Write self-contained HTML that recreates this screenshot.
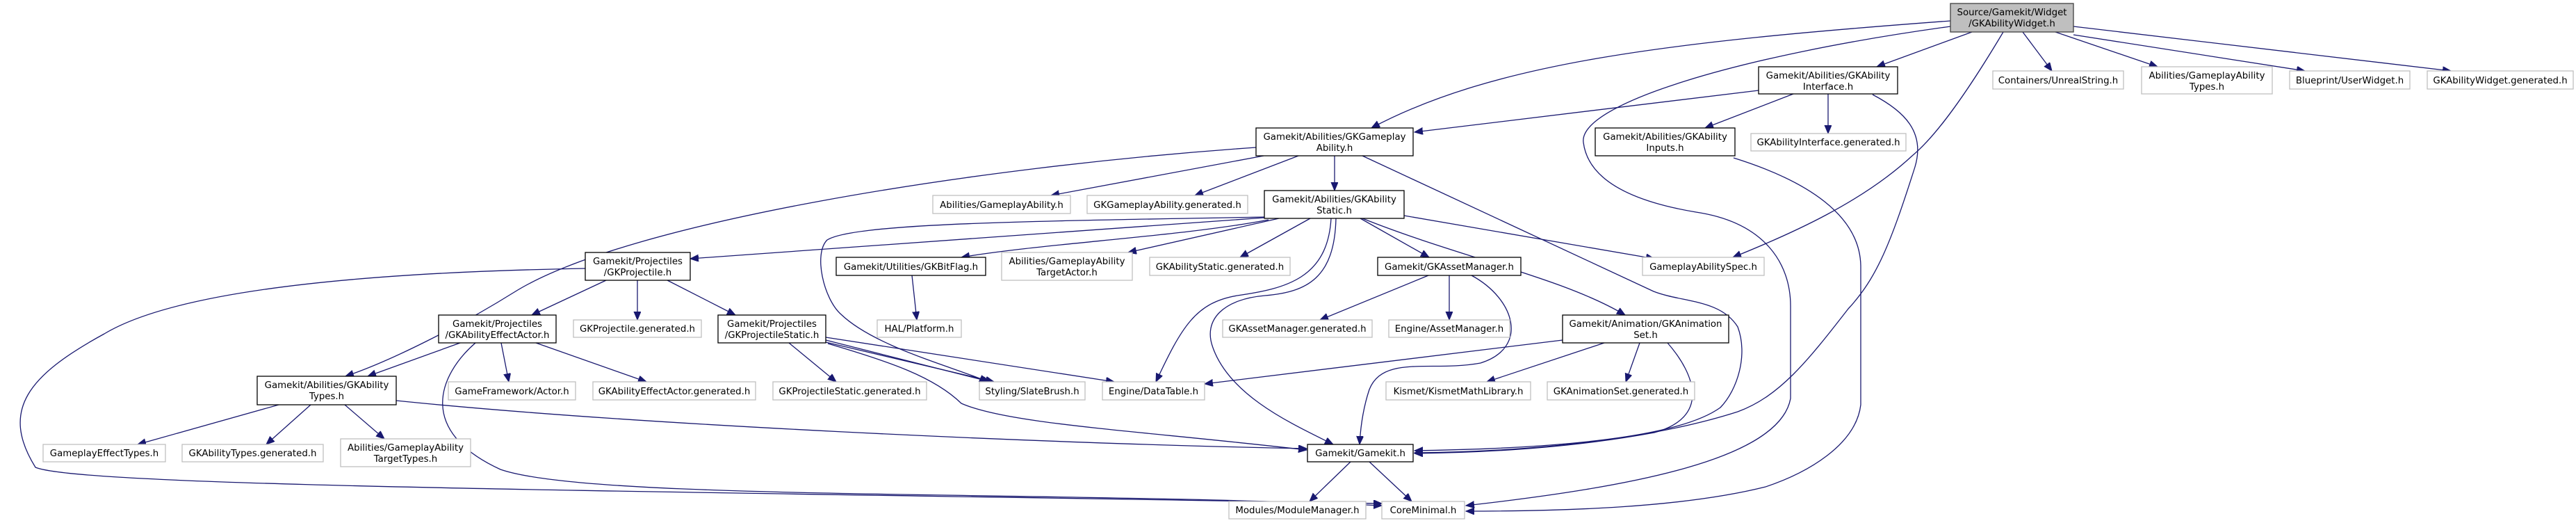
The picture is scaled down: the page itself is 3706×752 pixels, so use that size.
<!DOCTYPE html>
<html><head><meta charset="utf-8"><style>
html,body{margin:0;padding:0;background:#fff;}
svg{display:block;}
text{font-family:"DejaVu Sans","Liberation Sans",sans-serif;font-size:13.33px;fill:#000;text-anchor:middle;}
.e{fill:none;stroke:#191970;stroke-width:1.3;marker-end:url(#a);}
.b{fill:#fff;stroke:#000;stroke-width:1.3;}
.g{fill:#fff;stroke:#bfbfbf;stroke-width:1.3;}
.r{fill:#bfbfbf;stroke:#404040;stroke-width:1.3;}
</style></head><body>
<svg width="3706" height="752" viewBox="0 0 3706 752" xmlns="http://www.w3.org/2000/svg">
<defs><marker id="a" markerUnits="userSpaceOnUse" markerWidth="14" markerHeight="12" refX="12" refY="5" orient="auto"><path d="M0,0 L12,5 L0,10 z" fill="#191970" stroke="#191970"/></marker></defs>
<g>
<path class="e" d="M2806,30 C2400,60 2150,90 1973,184"/>
<path class="e" d="M2806,38 C2500,80 2270,150 2278,205 C2285,260 2350,290 2440,305 C2540,320 2576,380 2576,440 L2576,573 C2560,660 2350,700 2109,727"/>
<path class="e" d="M2837,46 L2700,96"/>
<path class="e" d="M2882,46 C2820,150 2780,200 2751,224 C2680,290 2580,335 2493,370"/>
<path class="e" d="M2910,46 L2952,102"/>
<path class="e" d="M2957,46 L3104,96"/>
<path class="e" d="M2983,50 L3316,102"/>
<path class="e" d="M2983,38 L3526,102"/>
<path class="e" d="M2530,130 L2035,190"/>
<path class="e" d="M2580,135 L2453,184"/>
<path class="e" d="M2630,135 L2630,192"/>
<path class="e" d="M2694,136 C2740,160 2770,190 2755,240 C2720,350 2700,400 2659,444 C2600,520 2560,570 2500,592 C2350,640 2150,650 2035,651"/>
<path class="e" d="M2494,227 C2600,260 2677,310 2677,384 L2677,582 C2670,640 2600,680 2540,700 C2420,730 2250,735 2109,735"/>
<path class="e" d="M1818,224 L1512,281"/>
<path class="e" d="M1868,224 L1719,281"/>
<path class="e" d="M1920,224 L1920,274"/>
<path class="e" d="M1807,212 C1400,240 900,320 740,420 C660,470 560,520 497,541"/>
<path class="e" d="M1960,224 L2379,419 C2420,435 2475,430 2500,470 C2515,510 2500,560 2475,586 C2400,640 2150,646 2035,648"/>
<path class="e" d="M1819,313 L993,372"/>
<path class="e" d="M1825,316 C1700,340 1500,350 1383,370"/>
<path class="e" d="M1840,314 L1623,363"/>
<path class="e" d="M1885,314 L1784,370"/>
<path class="e" d="M1957,314 L2056,370"/>
<path class="e" d="M1960,314 C2100,370 2250,400 2338,453"/>
<path class="e" d="M2020,310 L2380,372"/>
<path class="e" d="M1915,314 C1910,400 1850,415 1780,425 C1720,435 1700,470 1663,549"/>
<path class="e" d="M1922,314 C1920,400 1880,420 1820,425 C1760,430 1730,460 1745,500 C1770,570 1860,610 1918,639"/>
<path class="e" d="M1819,312 C1500,318 1230,320 1190,345 C1170,365 1185,430 1210,452 C1260,500 1380,530 1421,549"/>
<path class="e" d="M1188,485 L1603,549"/>
<path class="e" d="M1188,489 L1425,549"/>
<path class="e" d="M1188,492 L1430,549"/>
<path class="e" d="M1191,494 C1280,520 1344,542 1383,580 C1450,610 1638,619 1880,647"/>
<path class="e" d="M1135,493 L1203,549"/>
<path class="e" d="M570,576 C900,610 1500,638 1880,645"/>
<path class="e" d="M842,386 C500,392 250,420 150,480 C40,540 0,590 51,672 C120,700 900,705 1988,724"/>
<path class="e" d="M684,493 C630,540 600,620 720,675 C850,720 1500,705 1988,727"/>
<path class="e" d="M662,493 L529,541"/>
<path class="e" d="M872,403 L765,453"/>
<path class="e" d="M917,403 L917,460"/>
<path class="e" d="M960,403 L1058,453"/>
<path class="e" d="M721,493 L732,549"/>
<path class="e" d="M771,493 L930,549"/>
<path class="e" d="M401,582 L198,639"/>
<path class="e" d="M447,582 L383,639"/>
<path class="e" d="M496,582 L553,631"/>
<path class="e" d="M1312,396 L1319,460"/>
<path class="e" d="M2055,396 L1899,460"/>
<path class="e" d="M2085,396 L2085,460"/>
<path class="e" d="M2117,396 C2180,430 2200,500 2130,522 C2060,535 1990,510 1970,560 C1960,590 1957,620 1956,639"/>
<path class="e" d="M2248,489 L1733,552"/>
<path class="e" d="M2308,493 L2139,549"/>
<path class="e" d="M2359,493 L2339,549"/>
<path class="e" d="M2399,493 C2440,540 2460,600 2380,622 C2250,646 2120,651 2035,652"/>
<path class="e" d="M1943,664 L1884,721"/>
<path class="e" d="M1970,664 L2031,721"/>
</g>
<g>
<rect class="r" x="2806" y="5" width="177" height="41"/><text x="2894.5" y="22">Source/Gamekit/Widget</text><text x="2894.5" y="38">/GKAbilityWidget.h</text>
<rect class="b" x="2530" y="96" width="200" height="39"/><text x="2630" y="113">Gamekit/Abilities/GKAbility</text><text x="2630" y="129">Interface.h</text>
<rect class="g" x="2867" y="102" width="188" height="26"/><text x="2961" y="120">Containers/UnrealString.h</text>
<rect class="g" x="3081" y="96" width="188" height="39"/><text x="3175" y="113">Abilities/GameplayAbility</text><text x="3175" y="129">Types.h</text>
<rect class="g" x="3294" y="102" width="173" height="26"/><text x="3380.5" y="120">Blueprint/UserWidget.h</text>
<rect class="g" x="3492" y="102" width="210" height="26"/><text x="3597" y="120">GKAbilityWidget.generated.h</text>
<rect class="b" x="1807" y="184" width="226" height="40"/><text x="1920" y="201">Gamekit/Abilities/GKGameplay</text><text x="1920" y="217">Ability.h</text>
<rect class="b" x="2295" y="184" width="201" height="40"/><text x="2395.5" y="201">Gamekit/Abilities/GKAbility</text><text x="2395.5" y="217">Inputs.h</text>
<rect class="g" x="2519" y="192" width="223" height="25"/><text x="2630.5" y="209">GKAbilityInterface.generated.h</text>
<rect class="g" x="1342" y="281" width="198" height="26"/><text x="1441" y="299">Abilities/GameplayAbility.h</text>
<rect class="g" x="1564" y="281" width="231" height="26"/><text x="1679.5" y="299">GKGameplayAbility.generated.h</text>
<rect class="b" x="1819" y="274" width="201" height="40"/><text x="1919.5" y="291">Gamekit/Abilities/GKAbility</text><text x="1919.5" y="307">Static.h</text>
<rect class="b" x="842" y="363" width="151" height="40"/><text x="917.5" y="380">Gamekit/Projectiles</text><text x="917.5" y="396">/GKProjectile.h</text>
<rect class="b" x="1203" y="370" width="215" height="26"/><text x="1310.5" y="388">Gamekit/Utilities/GKBitFlag.h</text>
<rect class="g" x="1441" y="363" width="188" height="40"/><text x="1535" y="380">Abilities/GameplayAbility</text><text x="1535" y="396">TargetActor.h</text>
<rect class="g" x="1654" y="370" width="202" height="26"/><text x="1755" y="388">GKAbilityStatic.generated.h</text>
<rect class="b" x="1982" y="370" width="206" height="26"/><text x="2085" y="388">Gamekit/GKAssetManager.h</text>
<rect class="g" x="2363" y="370" width="175" height="26"/><text x="2450.5" y="388">GameplayAbilitySpec.h</text>
<rect class="b" x="631" y="453" width="169" height="40"/><text x="715.5" y="470">Gamekit/Projectiles</text><text x="715.5" y="486">/GKAbilityEffectActor.h</text>
<rect class="g" x="825" y="460" width="184" height="25"/><text x="917" y="477">GKProjectile.generated.h</text>
<rect class="b" x="1033" y="453" width="155" height="40"/><text x="1110.5" y="470">Gamekit/Projectiles</text><text x="1110.5" y="486">/GKProjectileStatic.h</text>
<rect class="g" x="1262" y="460" width="121" height="25"/><text x="1322.5" y="477">HAL/Platform.h</text>
<rect class="g" x="1759" y="460" width="215" height="25"/><text x="1866.5" y="477">GKAssetManager.generated.h</text>
<rect class="g" x="1998" y="460" width="174" height="25"/><text x="2085" y="477">Engine/AssetManager.h</text>
<rect class="b" x="2248" y="453" width="239" height="40"/><text x="2367.5" y="470">Gamekit/Animation/GKAnimation</text><text x="2367.5" y="486">Set.h</text>
<rect class="b" x="370" y="541" width="200" height="41"/><text x="470" y="558">Gamekit/Abilities/GKAbility</text><text x="470" y="574">Types.h</text>
<rect class="g" x="645" y="549" width="183" height="26"/><text x="736.5" y="567">GameFramework/Actor.h</text>
<rect class="g" x="853" y="549" width="234" height="26"/><text x="970" y="567">GKAbilityEffectActor.generated.h</text>
<rect class="g" x="1112" y="549" width="221" height="26"/><text x="1222.5" y="567">GKProjectileStatic.generated.h</text>
<rect class="g" x="1409" y="549" width="152" height="26"/><text x="1485" y="567">Styling/SlateBrush.h</text>
<rect class="g" x="1586" y="549" width="147" height="26"/><text x="1659.5" y="567">Engine/DataTable.h</text>
<rect class="g" x="1994" y="549" width="208" height="26"/><text x="2098" y="567">Kismet/KismetMathLibrary.h</text>
<rect class="g" x="2226" y="549" width="212" height="26"/><text x="2332" y="567">GKAnimationSet.generated.h</text>
<rect class="g" x="62" y="639" width="176" height="25"/><text x="150" y="656">GameplayEffectTypes.h</text>
<rect class="g" x="262" y="639" width="203" height="25"/><text x="363.5" y="656">GKAbilityTypes.generated.h</text>
<rect class="g" x="490" y="631" width="187" height="40"/><text x="583.5" y="648">Abilities/GameplayAbility</text><text x="583.5" y="664">TargetTypes.h</text>
<rect class="b" x="1881" y="639" width="152" height="25"/><text x="1957" y="656">Gamekit/Gamekit.h</text>
<rect class="g" x="1768" y="721" width="197" height="25"/><text x="1866.5" y="738">Modules/ModuleManager.h</text>
<rect class="g" x="1988" y="721" width="119" height="25"/><text x="2047.5" y="738">CoreMinimal.h</text>
</g>
</svg>
</body></html>
